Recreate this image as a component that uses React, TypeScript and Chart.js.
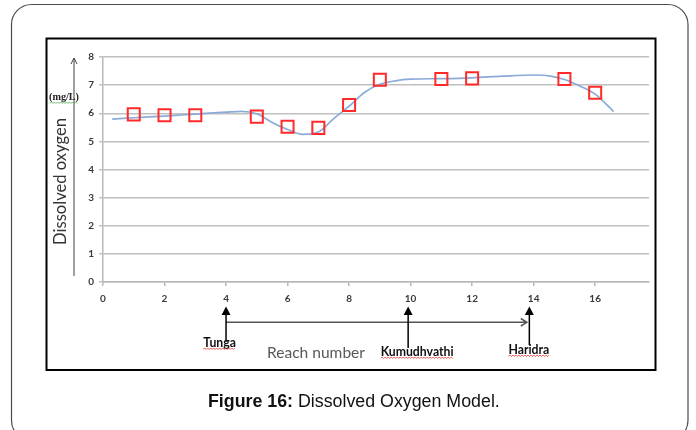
import React, { useEffect, useRef } from 'react';
import { Chart, registerables } from 'chart.js';

Chart.register(...registerables);

// Observed dissolved oxygen (red squares)
const reachNumbers = [1, 2, 3, 5, 6, 7, 8, 9, 11, 12, 15, 16];
const observedDO = [5.96, 5.93, 5.93, 5.88, 5.52, 5.48, 6.29, 7.19, 7.22, 7.24, 7.22, 6.73];

// Model curve (blue line)
const modelReach = [0.3, 1, 2, 3, 4, 4.5, 5, 5.5, 6, 6.5, 7, 7.5, 8, 8.5, 9, 9.5, 10, 11, 12, 13, 14, 14.5, 15, 15.5, 16, 16.6];
const modelDO = [5.79, 5.84, 5.9, 5.97, 6.04, 6.07, 5.98, 5.67, 5.42, 5.25, 5.33, 5.81, 6.25, 6.74, 7.03, 7.15, 7.21, 7.23, 7.26, 7.32, 7.36, 7.33, 7.2, 6.97, 6.68, 6.06];

// Tributary annotations along the reach axis
const tributaryNames = ['Tunga', 'Kumudhvathi', 'Haridra'];
const tributaryReach = [4, 9.92, 13.86];

const yTitle = 'Dissolved oxygen';
const yUnit = '(mg/L)';
const xTitle = 'Reach number';
const captionBold = 'Figure 16:';
const captionRest = ' Dissolved Oxygen Model.';

function fitSize(ctx: CanvasRenderingContext2D, text: string, width: number, weight: string, family: string) {
  ctx.font = `${weight} 20px ${family}`;
  const w = ctx.measureText(text).width;
  return (20 * width) / w;
}

function squiggle(ctx: CanvasRenderingContext2D, x1: number, x2: number, y: number, color: string) {
  ctx.save();
  ctx.strokeStyle = color;
  ctx.lineWidth = 0.8;
  ctx.beginPath();
  let up = true;
  ctx.moveTo(x1, y);
  for (let x = x1 + 1.5; x <= x2; x += 1.5) {
    ctx.lineTo(x, up ? y - 1 : y + 0.5);
    up = !up;
  }
  ctx.stroke();
  ctx.restore();
}

const extrasPlugin = {
  id: 'extras',
  afterDraw(chart: any) {
    const ctx: CanvasRenderingContext2D = chart.ctx;
    const xs = chart.scales.x;
    ctx.save();

    // outer rounded frame
    ctx.strokeStyle = '#4a4a4a';
    ctx.lineWidth = 1.2;
    ctx.beginPath();
    (ctx as any).roundRect(11.5, 4.5, 676.5, 436, 20);
    ctx.stroke();

    // inner black frame
    ctx.strokeStyle = '#000';
    ctx.lineWidth = 2;
    ctx.strokeRect(46.5, 38.5, 609, 331.5);

    // y axis arrow
    ctx.strokeStyle = '#404040';
    ctx.lineWidth = 1;
    ctx.beginPath();
    ctx.moveTo(74, 276);
    ctx.lineTo(74, 58);
    ctx.moveTo(71, 64);
    ctx.lineTo(74, 58);
    ctx.lineTo(77, 64);
    ctx.stroke();

    // y title
    const ys = fitSize(ctx, yTitle, 127, 'normal', 'Lato');
    ctx.save();
    ctx.translate(61, 181.5);
    ctx.rotate(-Math.PI / 2);
    ctx.font = `normal ${ys}px Lato`;
    ctx.fillStyle = '#333';
    ctx.textAlign = 'center';
    ctx.textBaseline = 'middle';
    ctx.fillText(yTitle, 0, 0);
    ctx.restore();

    // unit
    const us = fitSize(ctx, yUnit, 30, 'bold', '"Liberation Serif"');
    ctx.font = `bold ${us}px "Liberation Serif"`;
    ctx.fillStyle = '#222';
    ctx.textAlign = 'center';
    ctx.textBaseline = 'middle';
    ctx.fillText(yUnit, 64, 97);
    squiggle(ctx, 50, 78, 103, '#4caf50');

    // horizontal flow arrow
    const ax0 = xs.getPixelForValue(tributaryReach[0]);
    const ax1 = xs.getPixelForValue(tributaryReach[2]) - 2.5;
    ctx.strokeStyle = '#555';
    ctx.lineWidth = 1.5;
    ctx.beginPath();
    ctx.moveTo(ax0, 322.3);
    ctx.lineTo(ax1, 322.3);
    ctx.moveTo(ax1 - 6, 318.5);
    ctx.lineTo(ax1, 322.3);
    ctx.lineTo(ax1 - 6, 326);
    ctx.stroke();

    // vertical tributary arrows + labels
    const bottoms = [341.7, 348, 345];
    const labelOffsets = [-6.5, 9, -0.5];
    const labelY = [343, 352, 350];
    const ls = fitSize(ctx, tributaryNames[1], 73, 'bold', 'Lato');
    tributaryNames.forEach((name, i) => {
      const px = xs.getPixelForValue(tributaryReach[i]);
      ctx.strokeStyle = '#000';
      ctx.fillStyle = '#000';
      ctx.lineWidth = 1.5;
      ctx.beginPath();
      ctx.moveTo(px, 313);
      ctx.lineTo(px, bottoms[i]);
      ctx.stroke();
      ctx.beginPath();
      ctx.moveTo(px, 306.5);
      ctx.lineTo(px - 4.5, 315);
      ctx.lineTo(px + 4.5, 315);
      ctx.closePath();
      ctx.fill();

      ctx.font = `bold ${ls}px Lato`;
      ctx.fillStyle = '#111';
      ctx.textAlign = 'center';
      ctx.textBaseline = 'middle';
      const cx = px + labelOffsets[i];
      ctx.fillText(name, cx, labelY[i]);
      const w = ctx.measureText(name).width;
      squiggle(ctx, cx - w / 2, cx + w / 2, labelY[i] + 6, '#e53935');
    });

    // x title
    const xsz = fitSize(ctx, xTitle, 98, 'normal', 'Lato');
    ctx.font = `normal ${xsz}px Lato`;
    ctx.fillStyle = '#595959';
    ctx.textAlign = 'center';
    ctx.textBaseline = 'middle';
    ctx.fillText(xTitle, 316, 352.7);

    // caption
    ctx.font = 'bold 20px "Liberation Sans"';
    const wb = ctx.measureText(captionBold).width;
    ctx.font = 'normal 20px "Liberation Sans"';
    const wr = ctx.measureText(captionRest).width;
    const cs = (20 * 292) / (wb + wr);
    const startX = 354 - 146;
    ctx.textAlign = 'left';
    ctx.fillStyle = '#111';
    ctx.font = `bold ${cs}px "Liberation Sans"`;
    ctx.fillText(captionBold, startX, 401.7);
    const wb2 = ctx.measureText(captionBold).width;
    ctx.font = `normal ${cs}px "Liberation Sans"`;
    ctx.fillText(captionRest, startX + wb2, 401.7);

    ctx.restore();
  },
};

export default function App() {
  const ref = useRef<HTMLCanvasElement>(null);
  useEffect(() => {
    const canvas = ref.current!;
    const tickFont = { family: 'Lato', size: 10, weight: 'bold' as const };
    const chart = new Chart(canvas, {
      type: 'scatter',
      data: {
        datasets: [
          {
            type: 'line' as any,
            label: 'Model',
            data: modelReach.map((x, i) => ({ x, y: modelDO[i] })),
            borderColor: '#8aabd8',
            borderWidth: 1.7,
            pointRadius: 0,
            cubicInterpolationMode: 'monotone',
            fill: false,
            order: 2,
          } as any,
          {
            label: 'Observed',
            data: reachNumbers.map((x, i) => ({ x, y: observedDO[i] })),
            pointStyle: 'rect',
            pointRadius: 8.5,
            pointHoverRadius: 8.5,
            borderColor: '#ff2a2a',
            borderWidth: 2,
            backgroundColor: 'rgba(0,0,0,0)',
            order: 1,
          },
        ],
      },
      options: {
        responsive: false,
        animation: false,
        devicePixelRatio: 1,
        layout: { padding: { left: 40, top: 57, right: 47, bottom: 118 } },
        plugins: { legend: { display: false }, tooltip: { enabled: false } },
        scales: {
          x: {
            type: 'linear',
            min: 0,
            max: 17.75,
            ticks: { stepSize: 2, includeBounds: false, padding: 7, color: '#3a3a3a', font: tickFont },
            grid: { drawOnChartArea: false, drawTicks: true, tickLength: 4, color: '#b8b8b8', lineWidth: 1.5 },
            border: { color: '#b8b8b8', width: 1.5 },
            afterFit: (s: any) => { s.height = 30; },
          },
          y: {
            min: 0,
            max: 8,
            ticks: { stepSize: 1, padding: 5, color: '#3a3a3a', font: tickFont },
            grid: { color: '#c0c0c0', lineWidth: 1.5, tickLength: 4 },
            border: { color: '#b8b8b8', width: 1.5 },
            afterFit: (s: any) => { s.width = 63; },
          },
        },
      },
      plugins: [extrasPlugin],
    } as any);
    return () => chart.destroy();
  }, []);
  return (
    <div style={{ position: 'absolute', left: 0, top: 0, width: 696, height: 430, background: '#fff' }}>
      <canvas ref={ref} width={696} height={430} style={{ display: 'block' }} />
    </div>
  );
}
